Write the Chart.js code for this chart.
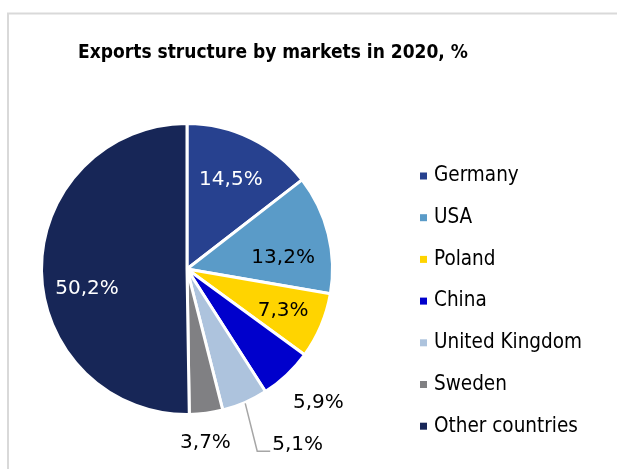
<!DOCTYPE html>
<html>
<head>
<meta charset="utf-8">
<script src="https://cdn.jsdelivr.net/npm/chart.js@4/dist/chart.umd.min.js"></script>
<style>
  html, body { margin: 0; padding: 0; background: #fff; }
  #wrap { position: relative; width: 617px; height: 469px; }
</style>
</head>
<body>
<div id="wrap"><canvas id="exportsChart" width="617" height="469"></canvas></div>
<script>
// Datos del gráfico
const markets = ['Germany', 'USA', 'Poland', 'China', 'United Kingdom', 'Sweden', 'Other countries'];
const shares = [14.5, 13.2, 7.3, 5.9, 5.1, 3.7, 50.2];
const shareLabels = ['14,5%', '13,2%', '7,3%', '5,9%', '5,1%', '3,7%', '50,2%'];
const sliceColors = ['#27418F', '#5A9BC8', '#FFD400', '#0000CC', '#ADC3DD', '#808083', '#172657'];
const labelColors = ['#ffffff', '#000000', '#000000', '#000000', '#000000', '#000000', '#ffffff'];

// Colocación de etiquetas (fracción del radio y desplazamiento angular en grados)
const labelPlacement = [
    { r: 0.685, da: 0 },
    { r: 0.665, da: 7.5 },
    { r: 0.72, da: 0.5 },
    { r: 1.29, da: -1.2 },
    { r: 1.43, da: -8.7, leader: true },
    { r: 1.2, da: 1.5 },
    { r: 0.70, da: -10.6 }
];

const CONDENSED = "'DejaVu Sans Condensed', 'DejaVu Sans', sans-serif";
const REGULAR = "'DejaVu Sans', sans-serif";

// Marco y título
const framePlugin = {
    id: 'frame',
    beforeDraw(chart) {
        const ctx = chart.ctx;
        ctx.save();
        ctx.fillStyle = '#ffffff';
        ctx.fillRect(0, 0, chart.width, chart.height);
        ctx.strokeStyle = '#d9d9d9';
        ctx.lineWidth = 2;
        ctx.beginPath();
        ctx.moveTo(8, chart.height);
        ctx.lineTo(8, 13.5);
        ctx.lineTo(chart.width, 13.5);
        ctx.stroke();

        ctx.fillStyle = '#000000';
        ctx.font = "bold 19px " + CONDENSED;
        ctx.textAlign = 'center';
        ctx.textBaseline = 'middle';
        ctx.fillText('Exports structure by markets in 2020, %', 273, 53);
        ctx.restore();
    }
};

// Etiquetas de datos y leyenda
const labelsPlugin = {
    id: 'sliceLabels',
    afterDatasetsDraw(chart) {
        const ctx = chart.ctx;
        const meta = chart.getDatasetMeta(0);
        ctx.save();
        ctx.font = "20px " + REGULAR;
        ctx.textAlign = 'center';
        ctx.textBaseline = 'middle';

        meta.data.forEach((arc, i) => {
            const p = arc.getProps(['x', 'y', 'startAngle', 'endAngle', 'outerRadius'], true);
            const place = labelPlacement[i];
            const mid = (p.startAngle + p.endAngle) / 2 + place.da * Math.PI / 180;
            const tx = p.x + Math.cos(mid) * p.outerRadius * place.r;
            const ty = p.y + Math.sin(mid) * p.outerRadius * place.r;

            if (place.leader) {
                const w = ctx.measureText(shareLabels[i]).width;
                const left = tx - w / 2;
                const realMid = (p.startAngle + p.endAngle) / 2;
                ctx.strokeStyle = '#a6a6a6';
                ctx.lineWidth = 1.5;
                ctx.beginPath();
                ctx.moveTo(p.x + Math.cos(realMid) * (p.outerRadius + 1), p.y + Math.sin(realMid) * (p.outerRadius + 1));
                ctx.lineTo(left - 15, ty + 6);
                ctx.lineTo(left - 2, ty + 6);
                ctx.stroke();
            }

            ctx.fillStyle = labelColors[i];
            ctx.fillText(shareLabels[i], tx, ty);
        });

        // Leyenda a la derecha
        ctx.textAlign = 'left';
        ctx.font = "20.5px " + CONDENSED;
        const legendX = 420;
        const legendTop = 176;
        const step = 41.7;
        markets.forEach((name, i) => {
            const y = legendTop + i * step;
            ctx.fillStyle = sliceColors[i];
            ctx.fillRect(legendX, y - 3.5, 7, 7);
            ctx.fillStyle = '#000000';
            ctx.fillText(name, legendX + 14, y);
        });
        ctx.restore();
    }
};

const ctx = document.getElementById('exportsChart').getContext('2d');
new Chart(ctx, {
    type: 'pie',
    data: {
        labels: markets,
        datasets: [{
            data: shares,
            backgroundColor: sliceColors,
            borderColor: '#ffffff',
            borderWidth: 3
        }]
    },
    options: {
        responsive: false,
        animation: false,
        layout: { padding: { left: 40, right: 283, top: 122, bottom: 53 } },
        plugins: {
            legend: { display: false },
            title: { display: false },
            tooltip: { enabled: false }
        }
    },
    plugins: [framePlugin, labelsPlugin]
});
</script>
</body>
</html>
